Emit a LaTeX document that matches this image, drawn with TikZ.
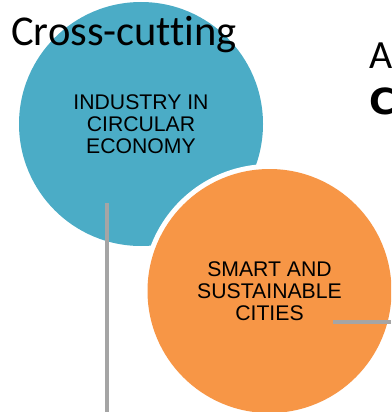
\documentclass[tikz,border=0pt]{standalone}
\usepackage{fontspec}
\setmainfont{Liberation Sans}
\newfontfamily\headfont[Ligatures=NoCommon]{Carlito}
\newfontfamily\boldhead{DejaVu Sans}
\definecolor{tealc}{HTML}{4BACC6}
\definecolor{orangec}{HTML}{F79646}
\definecolor{linec}{HTML}{A5A5A5}
\tikzset{
  disc/.style={circle,minimum size=244pt,inner sep=0pt,draw=none},
  label/.style={align=center,font=\fontsize{21.2}{22}\selectfont,text=black},
  head/.style={anchor=base west,inner sep=0pt,text=black},
  rule/.style={draw=linec,line width=4pt}
}
\begin{document}
\begin{tikzpicture}[x=1pt,y=-1pt]
\useasboundingbox (0,0) rectangle (391,412);
\clip (0,0) rectangle (391,412);
\node[disc,fill=tealc] (blue) at (141,124) {};
\node[disc,fill=white,minimum size=254pt] (halo) at (269.5,291) {};
\node[disc,fill=orangec] (orange) at (269.5,291) {};
\node[head,font=\fontsize{42.5}{50}\selectfont\headfont] (cross) at (11,46) {Cross-cutting};
\node[head,font=\fontsize{40}{48}\selectfont\headfont] (a) at (369,68) {A};
\node[head,font=\fontsize{36}{44}\selectfont\bfseries\boldhead] (c) at (369,114.5) {C};
\node[label] (bluetext) at (141,124) {INDUSTRY IN\\CIRCULAR\\ECONOMY};
\node[label] (orangetext) at (269.5,291) {SMART AND\\SUSTAINABLE\\CITIES};
\coordinate (v1) at (107,203);
\coordinate (v2) at (107,412);
\coordinate (h1) at (333,322);
\coordinate (h2) at (391,322);
\draw[rule] (v1) -- (v2);
\draw[rule] (h1) -- (h2);
\end{tikzpicture}
\end{document}
